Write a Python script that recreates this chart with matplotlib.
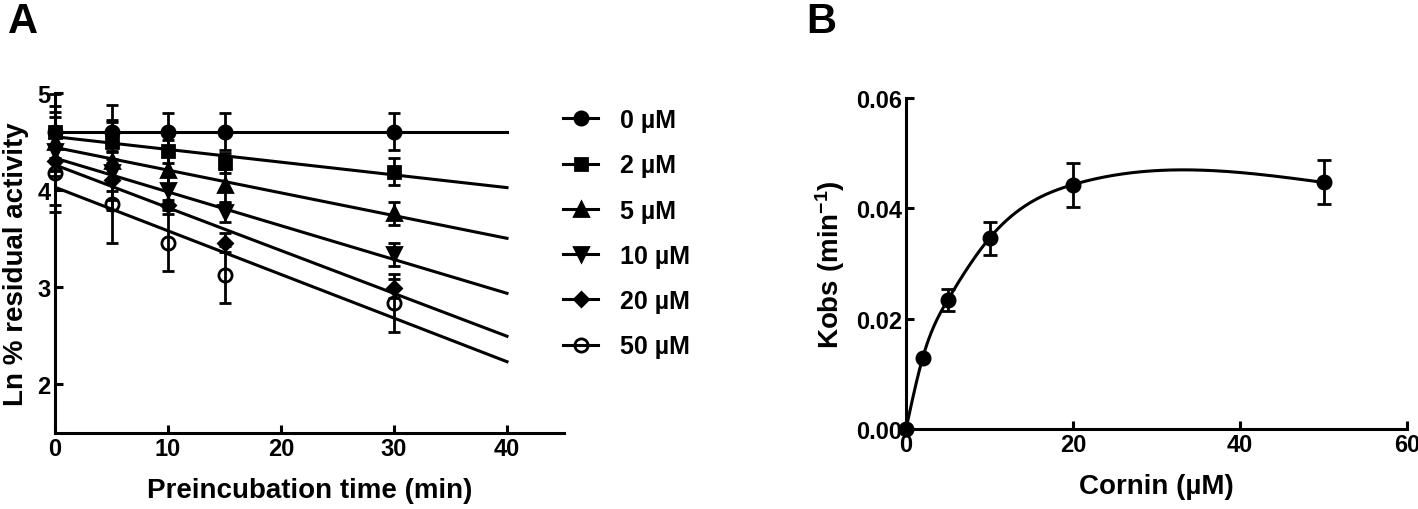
import numpy as np
import matplotlib
matplotlib.use('Agg')
import matplotlib.pyplot as plt

plt.rcParams['font.family'] = ['Liberation Sans', 'DejaVu Sans']
plt.rcParams['font.weight'] = 'bold'
plt.rcParams['axes.labelweight'] = 'bold'
plt.rcParams['mathtext.fontset'] = 'custom'
plt.rcParams['mathtext.rm'] = 'Liberation Sans:bold'
plt.rcParams['mathtext.default'] = 'rm'

# ---------------- Panel A data ----------------
time_min = [0, 5, 10, 15, 30]
conc_labels = ['0 µM', '2 µM', '5 µM', '10 µM', '20 µM', '50 µM']
ln_0 = [4.60, 4.60, 4.60, 4.60, 4.60]
ln_2 = [4.60, 4.50, 4.40, 4.28, 4.19]
ln_5 = [4.50, 4.30, 4.21, 4.05, 3.76]
ln_10 = [4.40, 4.19, 4.00, 3.77, 3.34]
ln_20 = [4.30, 4.10, 3.85, 3.46, 2.99]
ln_50 = [4.18, 3.86, 3.46, 3.13, 2.84]
err_0 = [0.27, 0.28, 0.19, 0.19, 0.19]
err_2 = [0.39, 0.22, 0.12, 0.10, 0.14]
err_5 = [0.30, 0.40, 0.15, 0.17, 0.12]
err_10 = [0.25, 0.20, 0.18, 0.10, 0.12]
err_20 = [0.45, 0.30, 0.05, 0.10, 0.10]
err_50 = [0.41, 0.40, 0.29, 0.29, 0.30]
fit_intercepts = [4.60, 4.55, 4.44, 4.33, 4.26, 4.03]
fit_slopes = [0.0, -0.0131, -0.0234, -0.0348, -0.0441, -0.0449]
fit_range = [0, 40]

# ---------------- Panel B data ----------------
cornin_uM = [0, 2, 5, 10, 20, 50]
kobs = [0.0, 0.0129, 0.0234, 0.0346, 0.0443, 0.0447]
kobs_err = [0.0, 0.0, 0.0020, 0.0030, 0.0040, 0.0040]

W, H = 1418, 510
fig = plt.figure(figsize=(W / 100, H / 100), dpi=100)

LW = 2.2
FS_TICK = 17
FS_LAB = 20


def style_axes(ax):
    for s in ['top', 'right']:
        ax.spines[s].set_visible(False)
    for s in ['left', 'bottom']:
        ax.spines[s].set_linewidth(LW)
    ax.tick_params(direction='in', length=6, width=LW, labelsize=FS_TICK, pad=3)
    for lab in ax.get_xticklabels() + ax.get_yticklabels():
        lab.set_fontweight('bold')


# Panel A
axA = fig.add_axes([55 / W, 1 - 434 / H, (563.5 - 55) / W, (434 - 94) / H])
series = [ln_0, ln_2, ln_5, ln_10, ln_20, ln_50]
errs = [err_0, err_2, err_5, err_10, err_20, err_50]
markers = ['o', 's', '^', 'v', 'D', 'o']
msizes = [9.5, 9, 9.5, 9.5, 7.5, 9.5]
handles = []
for i in range(6):
    xf = np.array(fit_range, dtype=float)
    yf = fit_intercepts[i] + fit_slopes[i] * xf
    axA.plot(xf, yf, color='black', lw=LW, zorder=2)
    mfc = 'none' if i == 5 else 'black'
    axA.errorbar(time_min, series[i], yerr=errs[i], fmt=markers[i], ms=msizes[i],
                 mfc=mfc, mec='black', mew=2, color='black', ecolor='black',
                 elinewidth=2, capsize=4.5, capthick=2, zorder=3, clip_on=False)
    h, = axA.plot([], [], color='black', lw=LW, marker=markers[i], ms=msizes[i],
                  mfc=mfc, mec='black', mew=2)
    handles.append(h)

axA.set_xlim(0, 45)
axA.set_ylim(1.5, 5)
axA.set_xticks([0, 10, 20, 30, 40])
axA.set_yticks([2, 3, 4, 5])
style_axes(axA)
axA.set_xlabel('Preincubation time (min)', fontsize=FS_LAB, fontweight='bold', labelpad=12)
axA.set_ylabel('Ln % residual activity', fontsize=FS_LAB, fontweight='bold', labelpad=6)

fig.legend(handles, conc_labels, loc='upper left', bbox_to_anchor=(563 / W, 1 - 109 / H),
           frameon=False, handlelength=1.4, handletextpad=0.9,
           labelspacing=0.85, borderpad=0, borderaxespad=0,
           prop={'weight': 'bold', 'size': 18})

# Panel B
axB = fig.add_axes([906 / W, 1 - 430 / H, (1407 - 906) / W, (430 - 99) / H])


def natural_spline(x, y, xs):
    x = np.asarray(x, float)
    y = np.asarray(y, float)
    n = len(x)
    h = np.diff(x)
    A = np.zeros((n, n))
    r = np.zeros(n)
    A[0, 0] = 1
    A[-1, -1] = 1
    for i in range(1, n - 1):
        A[i, i - 1] = h[i - 1]
        A[i, i] = 2 * (h[i - 1] + h[i])
        A[i, i + 1] = h[i]
        r[i] = 3 * ((y[i + 1] - y[i]) / h[i] - (y[i] - y[i - 1]) / h[i - 1])
    c = np.linalg.solve(A, r)
    b = (y[1:] - y[:-1]) / h - h * (2 * c[:-1] + c[1:]) / 3
    d = (c[1:] - c[:-1]) / (3 * h)
    idx = np.clip(np.searchsorted(x, xs) - 1, 0, n - 2)
    dx = xs - x[idx]
    return y[idx] + b[idx] * dx + c[idx] * dx ** 2 + d[idx] * dx ** 3


xs = np.linspace(cornin_uM[0], cornin_uM[-1], 400)
axB.plot(xs, natural_spline(cornin_uM, kobs, xs), color='black', lw=LW, zorder=2)
axB.errorbar(cornin_uM, kobs, yerr=kobs_err, fmt='o', ms=10.5, mfc='black', mec='black',
             color='black', elinewidth=2, capsize=5, capthick=2, zorder=3, clip_on=False)
axB.set_xlim(0, 60)
axB.set_ylim(0, 0.06)
axB.set_xticks([0, 20, 40, 60])
axB.set_yticks([0, 0.02, 0.04, 0.06])
axB.set_yticklabels(['0.00', '0.02', '0.04', '0.06'])
style_axes(axB)
axB.set_xlabel('Cornin (µM)', fontsize=FS_LAB, fontweight='bold', labelpad=12)
axB.set_ylabel('Kobs (min$^{-1}$)', fontsize=FS_LAB, fontweight='bold', labelpad=6)

fig.text(8 / W, 1 - 2 / H, 'A', fontsize=30, fontweight='bold', va='top', ha='left')
fig.text(806 / W, 1 - 2 / H, 'B', fontsize=30, fontweight='bold', va='top', ha='left')

fig.savefig('out.png', dpi=100)
